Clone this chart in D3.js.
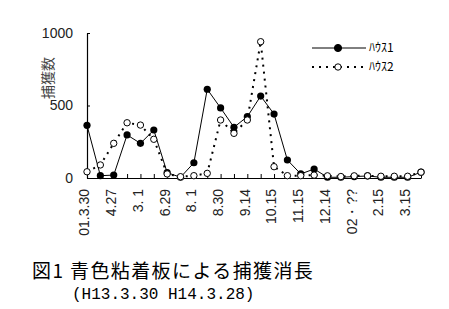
<!DOCTYPE html>
<html>
<head>
<meta charset="utf-8">
<script src="https://cdn.jsdelivr.net/npm/d3@7"></script>
<style>
	body { margin: 0; background: #fff; }
</style>
</head>
<body>
<script>
// data
var categories = d3.range(26);
var tickLabels = ["01.3.30", "4.27", "3. 1", "6.29", "8. 1", "8.30", "9.14",
	"10.15", "11.15", "12.14", "02・??", "2.15", "3.15"];
var house1 = [363, 16, 20, 297, 239, 331, 37, 5, 105, 612, 483, 350, 423,
	565, 441, 124, 28, 62, 5, 5, 10, 14, 5, 5, 5, 40];
var house2 = [43, 90, 239, 381, 365, 267, 28, 9, 16, 32, 400, 308, 400,
	940, 78, 16, 16, 20, 15, 10, 15, 15, 12, 12, 12, 40];
var seriesNames = ["ﾊｳｽ1", "ﾊｳｽ2"];
var yTicks = [0, 500, 1000];

var sans = "Liberation Sans, Arial, sans-serif",
	cjk = "Noto Sans CJK JP, sans-serif";

var width = 449, height = 309;
var svg = d3.select("body").append("svg")
	.attr("width", width)
	.attr("height", height);

var x = d3.scalePoint().domain(categories).range([87, 421]);
var y = d3.scaleLinear().domain([0, 1000]).range([178, 33]);

//axes
var xAxis = d3.axisBottom(x).tickSizeInner(-4).tickSizeOuter(0).tickFormat("");
var gX = svg.append("g")
	.attr("transform", "translate(0," + y(0) + ")")
	.call(xAxis);
gX.select(".domain").attr("stroke", "#000").attr("stroke-width", 1.2);
gX.selectAll(".tick line").attr("stroke", "#000");

var yAxis = d3.axisLeft(y).tickValues(yTicks).tickFormat(d3.format("d"))
	.tickSizeInner(-3).tickSizeOuter(0).tickPadding(14);
var gY = svg.append("g")
	.attr("transform", "translate(" + x(0) + ",0)")
	.call(yAxis);
gY.select(".domain").attr("stroke", "#000").attr("stroke-width", 1.2);
gY.selectAll(".tick line").attr("stroke", "#000");
gY.selectAll(".tick text")
	.style("font-family", sans)
	.style("font-size", "14px")
	.attr("fill", "#222");

//category labels, every second one
svg.append("g").selectAll("text")
	.data(tickLabels).enter()
	.append("text")
	.attr("transform", function(d, i) { return "translate(" + x(i * 2) + ",189) rotate(-90)"; })
	.attr("dy", "0.17em")
	.attr("text-anchor", "end")
	.style("font-family", sans)
	.style("font-size", "14px")
	.attr("fill", "#222")
	.text(function(d) { return d; });

//y title
svg.append("text")
	.attr("transform", "translate(48,78) rotate(-90)")
	.attr("dy", "0.35em")
	.attr("text-anchor", "middle")
	.style("font-family", cjk)
	.style("font-size", "14px")
	.attr("fill", "#444")
	.text("捕獲数");

var line = d3.line()
	.x(function(d, i) { return x(i); })
	.y(function(d) { return y(d); });

// series 1
svg.append("path")
	.datum(house1)
	.attr("d", line)
	.attr("fill", "none")
	.attr("stroke", "#000")
	.attr("stroke-width", 1);
svg.append("g").selectAll("circle")
	.data(house1).enter()
	.append("circle")
	.attr("cx", function(d, i) { return x(i); })
	.attr("cy", function(d) { return y(d); })
	.attr("r", 3.6)
	.attr("fill", "#000");

// series 2
svg.append("path")
	.datum(house2)
	.attr("d", line)
	.attr("fill", "none")
	.attr("stroke", "#000")
	.attr("stroke-width", 2)
	.attr("stroke-dasharray", "2,5");
svg.append("g").selectAll("circle")
	.data(house2).enter()
	.append("circle")
	.attr("cx", function(d, i) { return x(i); })
	.attr("cy", function(d) { return y(d); })
	.attr("r", 3.2)
	.attr("fill", "#fff")
	.attr("stroke", "#000")
	.attr("stroke-width", 1);

//legend
var legend = svg.append("g");
[0, 1].forEach(function(k) {
	var ly = 48 + k * 19;
	legend.append("line")
		.attr("x1", 312).attr("x2", 366)
		.attr("y1", ly).attr("y2", ly)
		.attr("stroke", "#000")
		.attr("stroke-width", k ? 2 : 1)
		.attr("stroke-dasharray", k ? "2,5" : null);
	legend.append("circle")
		.attr("cx", 338).attr("cy", ly)
		.attr("r", k ? 3.2 : 3.6)
		.attr("fill", k ? "#fff" : "#000")
		.attr("stroke", "#000");
	legend.append("text")
		.attr("x", 369).attr("y", ly)
		.attr("dy", "0.35em")
		.style("font-family", cjk)
		.style("font-size", "12px")
		.text(seriesNames[k]);
});

//caption
svg.append("text")
	.attr("x", 32).attr("y", 278)
	.style("font-family", cjk)
	.style("font-size", "19px")
	.style("letter-spacing", "1.4px")
	.text("図1 青色粘着板による捕獲消長");
svg.append("text")
	.attr("x", 72).attr("y", 299)
	.style("font-family", "Liberation Mono, monospace")
	.style("font-size", "16px")
	.text("(H13.3.30 H14.3.28)");
</script>
</body>
</html>
